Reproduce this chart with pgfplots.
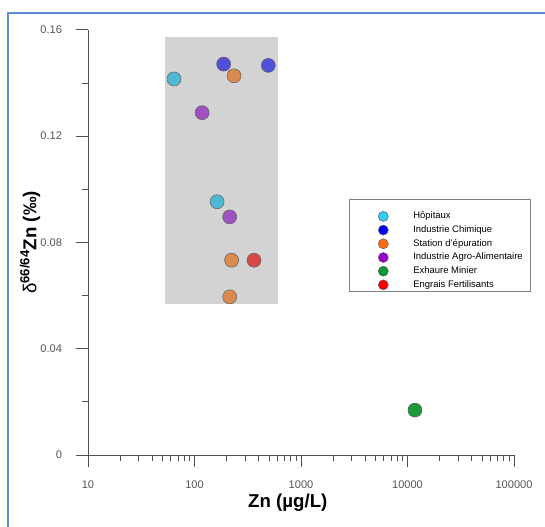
\documentclass[border=0pt]{standalone}
\usepackage{pgfplots}
\pgfplotsset{compat=1.18}
\usepackage{fontspec}
\setmainfont{Liberation Sans}

\definecolor{frameblue}{HTML}{5B8DD5}
\definecolor{axisgray}{HTML}{505050}
\definecolor{labelgray}{HTML}{555555}
\definecolor{boxgray}{HTML}{D3D3D3}
\definecolor{edgegray}{HTML}{606060}
% colours of the points in the plot
\definecolor{ptcyan}{HTML}{4FB9D4}
\definecolor{ptblue}{HTML}{5050D8}
\definecolor{ptorange}{HTML}{DA8A4E}
\definecolor{ptpurple}{HTML}{A050C0}
\definecolor{ptgreen}{HTML}{1C9A3C}
\definecolor{ptred}{HTML}{D84848}
% colours of the legend markers
\definecolor{lgcyan}{HTML}{33CCFF}
\definecolor{lgblue}{HTML}{0000FF}
\definecolor{lgorange}{HTML}{FF6A10}
\definecolor{lgpurple}{HTML}{9900CC}
\definecolor{lggreen}{HTML}{009933}
\definecolor{lgred}{HTML}{FF0000}

\pgfplotsset{
  pt/.style={only marks, mark=*, mark size=5.25pt,
    mark options={fill=#1, draw=edgegray, line width=0.4pt}, forget plot},
  lg/.style={only marks, mark=*, mark size=3.75pt,
    mark options={fill=#1, draw=edgegray, line width=0.4pt}},
}

\begin{document}
\begin{tikzpicture}[x=0.75pt,y=0.75pt]
\useasboundingbox (0,0) rectangle (545,527);
\draw[frameblue, line width=1.5pt] (8,0) -- (8,514) -- (545,514);

\begin{axis}[
  at={(66pt,54pt)}, anchor=south west,
  scale only axis, width=319.5pt, height=318.9pt,
  xmode=log, xmin=10, xmax=100000, ymin=0, ymax=0.16,
  axis x line=bottom, axis y line=left,
  axis line style={-, draw=axisgray, line width=0.6pt},
  tick align=outside, major tick length=9pt, minor tick length=4.5pt,
  every tick/.style={axisgray, line width=0.6pt},
  xtick={10,100,1000,10000,100000},
  xticklabels={10,100,1000,10000,100000},
  minor xtick={20,30,40,50,60,70,80,90,200,300,400,500,600,700,800,900,
    2000,3000,4000,5000,6000,7000,8000,9000,20000,30000,40000,50000,60000,70000,80000,90000},
  ytick={0,0.04,0.08,0.12,0.16},
  yticklabels={0,0.04,0.08,0.12,0.16},
  minor ytick={0.02,0.06,0.10,0.14},
  tick label style={font=\fontsize{8.3}{10}\selectfont, text=labelgray},
  yticklabel style={anchor=east, xshift=-7pt},
  xticklabel style={anchor=north, yshift=-7pt},
  xlabel={\textbf{Zn (µg/L)}},
  xlabel style={at={(axis description cs:0.469,-0.113)}, anchor=center,
    font=\fontsize{14}{16}\selectfont},
  ylabel={δ\textsuperscript{\textbf{66/64}}\textbf{Zn (‰)}},
  ylabel style={at={(axis description cs:-0.136,0.5)}, anchor=center,
    font=\fontsize{14}{16}\selectfont},
  legend style={at={(axis description cs:0.6127,0.5722)}, anchor=north west,
    draw=none, fill=none, inner sep=0pt, row sep=3.6pt,
    nodes={inner sep=0pt, anchor=west},
    font=\fontsize{7.1}{8.5}\selectfont},
  legend cell align=left,
  legend image code/.code={
    \pgfpathmoveto{\pgfpoint{0pt}{0pt}}\pgfpathlineto{\pgfpoint{48pt}{0pt}}
    \pgfusepath{use as bounding box}
    \draw[#1] plot coordinates {(25.5pt,0pt)};
  },
]

% grey zone
\addplot[fill=boxgray, draw=none, no markers, sharp plot, forget plot] coordinates
  {(52.9,0.0568) (608,0.0568) (608,0.1573) (52.9,0.1573)} -- cycle;

\addplot[pt=ptcyan] coordinates {(64.2,0.1415) (163,0.0953)};
\addplot[pt=ptblue] coordinates {(188,0.1471) (493,0.1466)};
\addplot[pt=ptorange] coordinates {(235,0.1427) (223,0.0733) (214,0.0595)};
\addplot[pt=ptpurple] coordinates {(118,0.1288) (214,0.0896)};
\addplot[pt=ptgreen] coordinates {(11750,0.0169)};
\addplot[pt=ptred] coordinates {(362,0.0733)};

\addlegendimage{lg=lgcyan}
\addlegendentry{Hôpitaux}
\addlegendimage{lg=lgblue}
\addlegendentry{Industrie Chimique}
\addlegendimage{lg=lgorange}
\addlegendentry{Station d'épuration}
\addlegendimage{lg=lgpurple}
\addlegendentry{Industrie Agro-Alimentaire}
\addlegendimage{lg=lggreen}
\addlegendentry{Exhaure Minier}
\addlegendimage{lg=lgred}
\addlegendentry{Engrais Fertilisants}
\end{axis}

% legend frame
\draw[gray, line width=0.75pt] (349,235) rectangle (530,327);
\end{tikzpicture}
\end{document}
